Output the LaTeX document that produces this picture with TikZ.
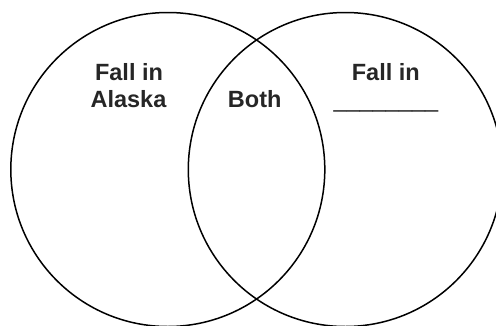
\documentclass[tikz,border=0pt]{standalone}
\usepackage{fontspec}
\setmainfont{Liberation Sans}
\begin{document}
\begin{tikzpicture}[x=1pt,y=-1pt,
  ring/.style={circle,draw=black,line width=1.5pt,minimum size=314pt,inner sep=0pt},
  lbl/.style={anchor=base,inner sep=0pt,text=black!85,font=\fontsize{23.5}{27}\selectfont\bfseries}]
\useasboundingbox (0,0) rectangle (496,325);
\begin{scope}
\clip (0,0) rectangle (496,325);
\node[ring] (L) at (167.8,169.5) {};
\node[ring] (R) at (345.3,169.5) {};
\end{scope}
\node[lbl] (l1) at (129,80) {Fall in};
\node[lbl] (l2) at (128.5,107.3) {Alaska};
\node[lbl] (b) at (254.7,107.3) {Both};
\node[lbl] (r1) at (385.8,80) {Fall in};
\node[lbl] (r2) at (386,107.3) {\mdseries\_\_\_\_\_\_\_\_};
\end{tikzpicture}
\end{document}
